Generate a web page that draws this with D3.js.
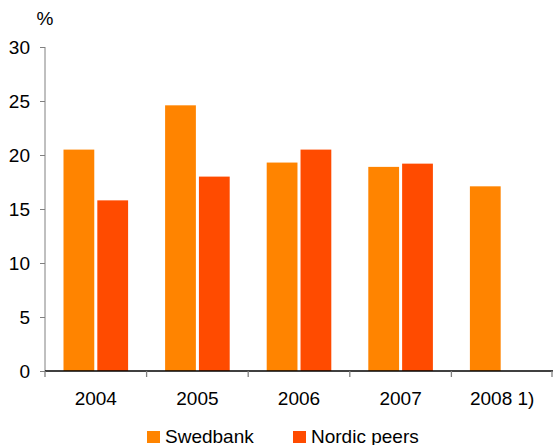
<!DOCTYPE html>
<html><head><meta charset="utf-8">
<script src="https://cdn.jsdelivr.net/npm/d3@7"></script>
<style>body{margin:0;background:#fff}svg{display:block}text{font-family:"Liberation Sans",Arial,sans-serif;fill:#000}</style>
</head><body>
<script>
const categories = ["2004","2005","2006","2007","2008 1)"];
const swedbank = [20.5, 24.6, 19.3, 18.9, 17.1];
const nordicPeers = [15.8, 18.0, 20.5, 19.2, null];
const seriesNames = ["Swedbank","Nordic peers"];
const yTicks = [0,5,10,15,20,25,30];
const colors = ["#FF8400","#FF4B00"];

const W=553,H=445, FS="19px";
const svg=d3.select("body").append("svg").attr("width",W).attr("height",H);
const x0=d3.scaleBand().domain(categories).range([45,553]).paddingInner(0).paddingOuter(0);
const x1=d3.scaleBand().domain(seriesNames).range([18.5,x0.bandwidth()-18.5]).paddingInner(0.09);
const y=d3.scaleLinear().domain([0,30]).range([371,47]);

const data=categories.map((c,i)=>({c,vals:[swedbank[i],nordicPeers[i]]}));
const g=svg.append("g");
data.forEach(d=>{
  d.vals.forEach((v,j)=>{
    if(v==null) return;
    g.append("rect").attr("x",x0(d.c)+x1(seriesNames[j])).attr("width",x1.bandwidth())
      .attr("y",y(v)).attr("height",y(0)-y(v)).attr("fill",colors[j]);
  });
});

// y axis
const ya=svg.append("g").attr("transform","translate(45,0)").call(d3.axisLeft(y).tickValues(yTicks).tickSize(5).tickPadding(10));
ya.select(".domain").attr("stroke","#808080").attr("d","M0,47V371");
ya.selectAll(".tick line").attr("stroke","#808080");
ya.selectAll(".tick text").attr("font-size",FS).attr("font-family","Liberation Sans, Arial, sans-serif");

// x axis
const xa=svg.append("g").attr("transform","translate(0,371)");
xa.append("line").attr("x1",45).attr("x2",553).attr("stroke","#000").attr("stroke-width",1.3);
const bounds=categories.map(c=>x0(c)).concat([x0.range()[1]-1]);
xa.selectAll(".tk").data(bounds).enter().append("line").attr("x1",d=>d).attr("x2",d=>d).attr("y1",0).attr("y2",6).attr("stroke","#808080").attr("stroke-width",1.3);
xa.selectAll(".lb").data(categories).enter().append("text").attr("x",d=>x0(d)+x0.bandwidth()/2).attr("y",34)
  .attr("text-anchor","middle").attr("font-size",FS).text(d=>d);

svg.append("text").attr("x",45).attr("y",25).attr("text-anchor","middle").attr("font-size",FS).text("%");

// legend
const leg=svg.append("g");
const lx=[147,293];
seriesNames.forEach((n,j)=>{
  leg.append("rect").attr("x",lx[j]).attr("y",431).attr("width",13).attr("height",12).attr("fill",colors[j]);
  leg.append("text").attr("x",lx[j]+18).attr("y",443).attr("font-size",FS).text(n);
});
</script>
</body></html>
